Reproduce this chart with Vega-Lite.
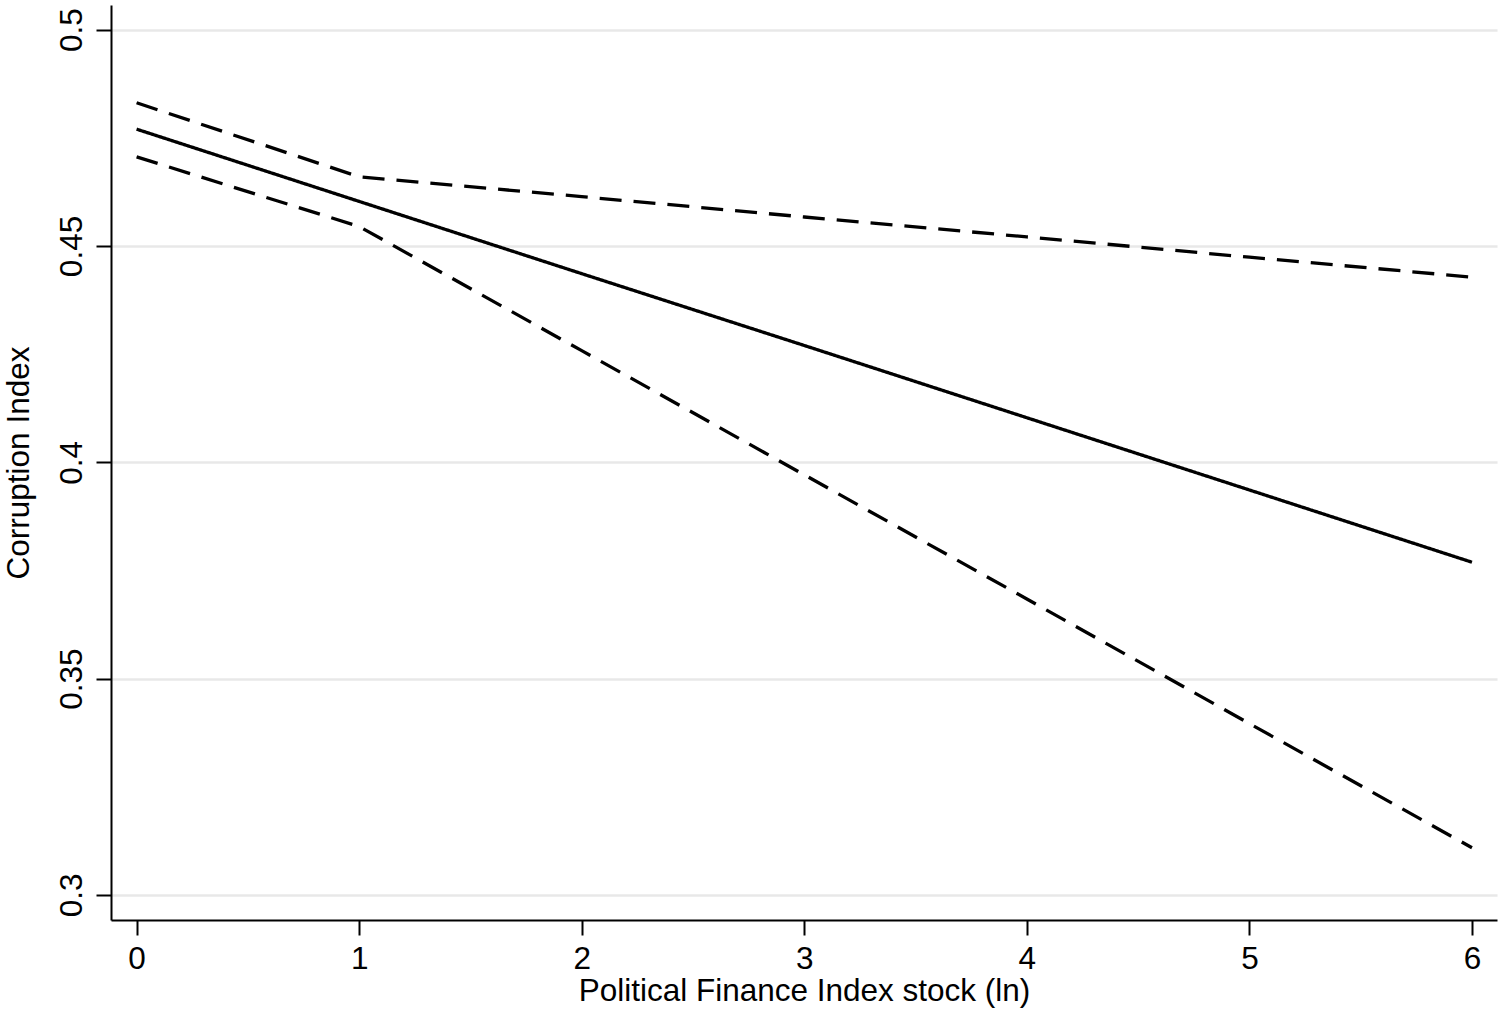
{
  "$schema": "https://vega.github.io/schema/vega-lite/v6.json",
  "description": "Predicted Corruption Index over Political Finance Index stock (ln), with confidence bounds.",
  "autosize": {"type": "none"},
  "padding": {"left": 111, "top": 5, "right": 3, "bottom": 92},
  "width": 1386,
  "height": 915,
  "background": "white",
  "data": {
    "values": [
      {"pfi": 0, "value": 0.4770, "series": "fit"},
      {"pfi": 1, "value": 0.4603, "series": "fit"},
      {"pfi": 2, "value": 0.4436, "series": "fit"},
      {"pfi": 3, "value": 0.4270, "series": "fit"},
      {"pfi": 4, "value": 0.4103, "series": "fit"},
      {"pfi": 5, "value": 0.3936, "series": "fit"},
      {"pfi": 6, "value": 0.3769, "series": "fit"},
      {"pfi": 0, "value": 0.4831, "series": "upper"},
      {"pfi": 1, "value": 0.4660, "series": "upper"},
      {"pfi": 2, "value": 0.4614, "series": "upper"},
      {"pfi": 3, "value": 0.4567, "series": "upper"},
      {"pfi": 4, "value": 0.4521, "series": "upper"},
      {"pfi": 5, "value": 0.4474, "series": "upper"},
      {"pfi": 6, "value": 0.4428, "series": "upper"},
      {"pfi": 0, "value": 0.4706, "series": "lower"},
      {"pfi": 1, "value": 0.4545, "series": "lower"},
      {"pfi": 2, "value": 0.4258, "series": "lower"},
      {"pfi": 3, "value": 0.3971, "series": "lower"},
      {"pfi": 4, "value": 0.3684, "series": "lower"},
      {"pfi": 5, "value": 0.3396, "series": "lower"},
      {"pfi": 6, "value": 0.3109, "series": "lower"}
    ]
  },
  "mark": {"type": "line", "color": "black", "strokeWidth": 3.3, "clip": true},
  "encoding": {
    "x": {
      "field": "pfi",
      "type": "quantitative",
      "scale": {"domain": [-0.115, 6.1125], "nice": false, "zero": false},
      "axis": {
        "title": "Political Finance Index stock (ln)",
        "values": [0, 1, 2, 3, 4, 5, 6],
        "format": "d",
        "grid": false,
        "labelPadding": 8,
        "titlePadding": 1
      }
    },
    "y": {
      "field": "value",
      "type": "quantitative",
      "scale": {"domain": [0.2942, 0.5057], "nice": false, "zero": false},
      "axis": {
        "title": "Corruption Index",
        "values": [0.3, 0.35, 0.4, 0.45, 0.5],
        "format": ".2~f",
        "grid": true,
        "labelAngle": -90,
        "labelAlign": "center",
        "labelBaseline": "bottom",
        "labelPadding": 8,
        "titlePadding": 21
      }
    },
    "detail": {"field": "series", "type": "nominal"},
    "strokeDash": {
      "field": "series",
      "type": "nominal",
      "scale": {"domain": ["fit", "upper", "lower"], "range": [[1, 0], [22, 12], [22, 12]]},
      "legend": null
    }
  },
  "config": {
    "view": {"stroke": null},
    "font": "Liberation Sans",
    "axis": {
      "domainColor": "black",
      "domainWidth": 2,
      "tickColor": "black",
      "tickWidth": 2,
      "tickSize": 15,
      "labelFont": "Liberation Sans",
      "labelFontSize": 31.5,
      "labelColor": "black",
      "titleFont": "Liberation Sans",
      "titleFontSize": 31.5,
      "titleFontWeight": "normal",
      "titleColor": "black",
      "gridColor": "#e8e8e8",
      "gridWidth": 2.5
    }
  }
}
